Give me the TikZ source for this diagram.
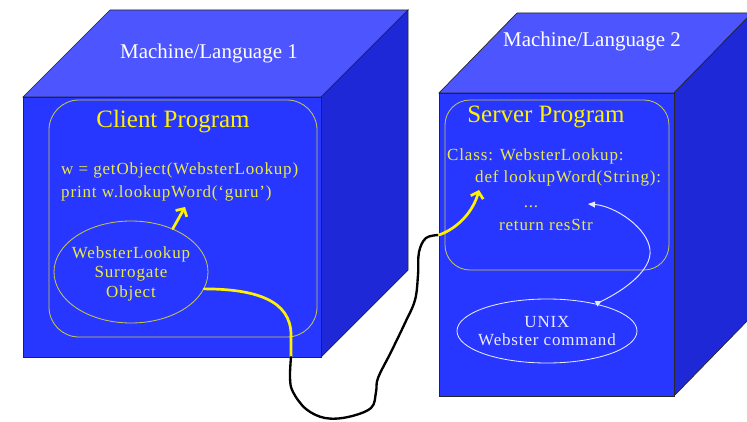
\documentclass[tikz,border=0pt]{standalone}
\usepackage{fontspec}
\setmainfont{Liberation Serif}
\newfontfamily\spacedfont[LetterSpace=5]{Liberation Serif}
\usepackage{tikz}
\usetikzlibrary{arrows.meta,positioning,shapes.geometric,calc}

\definecolor{frontblue}{RGB}{40,55,255}
\definecolor{topblue}{RGB}{77,85,255}
\definecolor{sideblue}{RGB}{30,40,215}
\definecolor{boxline}{RGB}{200,200,80}
\definecolor{codeyellow}{RGB}{235,235,70}
\definecolor{unixwhite}{RGB}{235,235,255}

\tikzset{
  face/.style={draw=black!85, line width=0.6pt},
  machine/.style={text=white, font=\fontsize{17.9}{20}\selectfont, anchor=base},
  progbox/.style={draw=boxline, line width=0.7pt, rounded corners=#1, inner sep=0pt},
  boxtitle/.style={text=yellow, font=\fontsize{21.3}{24}\selectfont, anchor=base},
  codeline/.style={text=codeyellow, font=\spacedfont\fontsize{14.5}{17}\selectfont, anchor=base west, inner sep=0pt},
  blob/.style={ellipse, draw=#1, line width=0.7pt, inner sep=0pt},
  wire/.style={line width=2.3pt, line cap=round, line join=round},
  barb/.style={-{Straight Barb[length=5pt,width=11pt]}},
}

\begin{document}
\begin{tikzpicture}[x=0.03cm, y=-0.03cm]
\useasboundingbox (0,0) rectangle (747,422);
\fill[white] (0,0) rectangle (747,422);
\clip (0,0) rectangle (747,422);

% cube 1
\filldraw[face, fill=topblue] (23,97) -- (110,10) -- (408,10) -- (321,97) -- cycle;
\filldraw[face, fill=sideblue] (321,97) -- (408,10) -- (408,270) -- (321,357) -- cycle;
\filldraw[face, fill=frontblue] (23,97) rectangle (321,357);
% cube 2
\filldraw[face, fill=topblue] (439,93) -- (517,13) -- (752,13) -- (674,93) -- cycle;
\filldraw[face, fill=sideblue] (674,93) -- (752,13) -- (752,316) -- (674,396) -- cycle;
\filldraw[face, fill=frontblue] (439,93) rectangle (674,396);

\node[machine] (lang1) at (209,59) {Machine/Language 1};
\node[machine] (lang2) at (592,47) {Machine/Language 2};

% client
\node[progbox=0.9cm, minimum width=8.04cm, minimum height=7.11cm] (client) at (183,218.5) {};
\node[boxtitle] (clienttitle) at (173,127) {Client Program};
\node[codeline] (getline) at (61,174) {w = getObject(WebsterLookup)};
\node[codeline] (printline) at (61,197) {print w.lookupWord(‘guru’)};
\node[blob=boxline, minimum width=4.62cm, minimum height=3.06cm] (surr) at (131,272) {};
\node[codeline, anchor=base, align=center, font=\spacedfont\fontsize{14.5}{16.6}\selectfont] (surrtext) at (131,297) {WebsterLookup\\Surrogate\\Object};

% server
\node[progbox=0.75cm, minimum width=6.72cm, minimum height=5.1cm] (server) at (557,185) {};
\node[boxtitle] (servertitle) at (546,123) {Server Program};
\node[codeline] (classline) at (447,160) {Class: WebsterLookup:};
\node[codeline] (defline) at (475,183) {def lookupWord(String):};
\node[codeline, anchor=base] (dots) at (531,207) {...};
\node[codeline, anchor=base] (retline) at (546,230) {return resStr};
\node[blob=unixwhite, minimum width=5.4cm, minimum height=1.92cm] (unix) at (547,331) {};
\node[codeline, anchor=base, align=center, text=unixwhite, font=\spacedfont\fontsize{14.5}{15.3}\selectfont] (unixtext) at (547,345) {UNIX\\Webster command};

% arrows
\coordinate (hit1) at (185,207);
\draw[wire, yellow, barb] (surr.46) -- (hit1);

\coordinate (out1) at (291,357);
\coordinate (in2) at (439,235);
\coordinate (hit2) at (479,190);
\draw[wire, yellow] (surr.-13) .. controls (255,289) and (291,300) .. (291,335) -- (out1);
\draw[wire, black, line width=2pt] plot[smooth, tension=0.6] coordinates {(out1) (290,378) (293,392) (306,409) (325,418) (348,417) (371,408) (376,392) (378,378) (391,352) (405,323) (415,300) (418,275) (419,252) (426,238) (in2)};
\draw[wire, yellow, barb] (in2) .. controls (458,228) and (473,212) .. (hit2);

\coordinate (hit3) at (588,204);
\draw[unixwhite, line width=0.8pt, {Triangle[reversed,length=5pt,width=5pt]}-{Triangle[length=6pt,width=5pt]}] (unix.29) .. controls (625,290) and (652,270) .. (650,250) .. controls (648,228) and (615,206) .. (hit3);

\end{tikzpicture}
\end{document}
